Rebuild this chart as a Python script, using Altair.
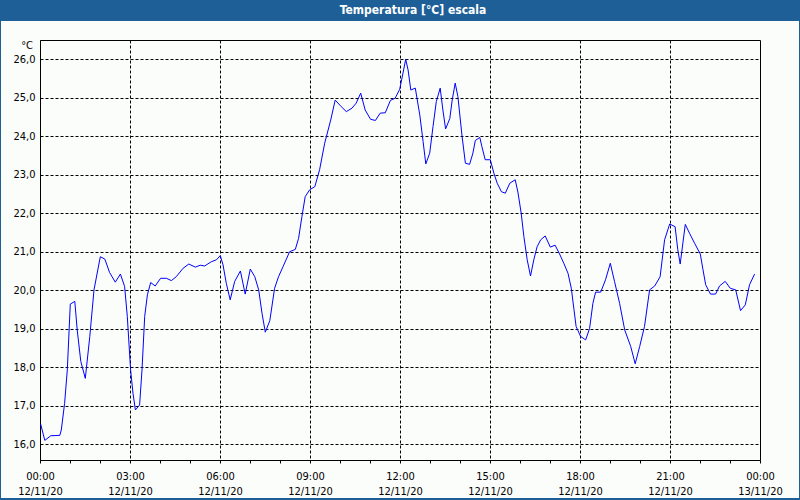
import altair as alt
import pandas as pd

title_text = "Temperatura [°C] escala"
unit_label = "°C"

hours = [0.02, 0.16, 0.36, 0.66, 0.71, 0.82, 0.91, 1.01, 1.16, 1.24, 1.36, 1.51, 1.66, 1.80,
         2.01, 2.16, 2.32, 2.51, 2.68, 2.82, 2.91, 3.02, 3.10, 3.18, 3.32, 3.40, 3.49, 3.58,
         3.69, 3.84, 4.02, 4.21, 4.38, 4.54, 4.77, 4.96, 5.18, 5.34, 5.49, 5.71, 5.88, 6.01,
         6.10, 6.21, 6.34, 6.49, 6.68, 6.84, 7.01, 7.16, 7.29, 7.40, 7.51, 7.66, 7.82, 7.95,
         8.10, 8.32, 8.51, 8.62, 8.73, 8.84, 8.99, 9.16, 9.32, 9.49, 9.69, 9.84, 10.04, 10.21,
         10.40, 10.54, 10.69, 10.84, 11.02, 11.18, 11.34, 11.51, 11.68, 11.84, 11.99, 12.10,
         12.19, 12.27, 12.36, 12.51, 12.66, 12.77, 12.86, 12.99, 13.10, 13.21, 13.34, 13.43,
         13.52, 13.66, 13.74, 13.84, 13.93, 14.07, 14.18, 14.32, 14.43, 14.51, 14.66, 14.73,
         14.84, 15.01, 15.13, 15.24, 15.38, 15.51, 15.66, 15.84, 15.93, 16.04, 16.13, 16.24,
         16.35, 16.46, 16.57, 16.69, 16.84, 17.01, 17.17, 17.32, 17.46, 17.60, 17.71, 17.80,
         17.87, 18.02, 18.19, 18.32, 18.43, 18.52, 18.69, 18.85, 19.01, 19.15, 19.32, 19.49,
         19.69, 19.84, 19.99, 20.15, 20.32, 20.49, 20.67, 20.82, 20.99, 21.17, 21.26, 21.34,
         21.43, 21.51, 21.65, 21.82, 22.01, 22.10, 22.19, 22.35, 22.52, 22.65, 22.84, 23.01,
         23.19, 23.35, 23.51, 23.65, 23.82]

temps = [16.53, 16.10, 16.22, 16.23, 16.37, 17.06, 17.93, 19.64, 19.71, 18.97, 18.15, 17.71, 18.80, 20.01,
         20.87, 20.81, 20.46, 20.21, 20.42, 20.10, 19.32, 17.93, 17.32, 16.89, 17.02, 17.93, 19.32, 19.88,
         20.20, 20.11, 20.31, 20.31, 20.25, 20.35, 20.57, 20.68, 20.60, 20.65, 20.63, 20.74, 20.79, 20.90,
         20.66, 20.18, 19.75, 20.23, 20.50, 19.90, 20.55, 20.35, 20.01, 19.40, 18.91, 19.21, 20.05, 20.35,
         20.61, 21.00, 21.06, 21.35, 21.91, 22.43, 22.61, 22.69, 23.13, 23.82, 24.42, 24.94, 24.77, 24.64,
         24.73, 24.86, 25.12, 24.68, 24.44, 24.41, 24.60, 24.61, 24.93, 24.99, 25.22, 25.64,
         26.00, 25.72, 25.20, 25.25, 24.55, 23.86, 23.28, 23.56, 24.25, 24.90, 25.25, 24.68,
         24.19, 24.46, 24.94, 25.38, 25.03, 23.99, 23.30, 23.27, 23.56, 23.89, 23.97, 23.73,
         23.39, 23.39, 23.04, 22.78, 22.56, 22.52, 22.78, 22.87, 22.55, 22.00, 21.39, 20.79,
         20.37, 20.79, 21.13, 21.31, 21.41, 21.12, 21.17, 20.94, 20.70, 20.44, 20.05, 19.49,
         19.06, 18.80, 18.71, 19.01, 19.66, 19.95, 19.95, 20.27, 20.70, 20.23, 19.66, 18.97,
         18.54, 18.09, 18.54, 19.06, 20.01, 20.11, 20.35, 21.31, 21.72, 21.65, 21.05, 20.68,
         21.23, 21.71, 21.48, 21.22, 20.94, 20.53, 20.14, 19.90, 19.90, 20.11, 20.23, 20.05,
         20.01, 19.47, 19.62, 20.14, 20.42]

x_ticks = list(range(0, 25))
y_ticks = list(range(16, 27))

df = pd.DataFrame({"hour": hours, "temp": temps})

FONT = "DejaVu Sans Condensed"
BAR = "#1e5f98"
W, H = 720, 420

x_axis = alt.Axis(
    values=x_ticks,
    title=None,
    labelExpr=("datum.value % 3 != 0 ? '' : "
               "[(datum.value % 24 < 10 ? '0' : '') + (datum.value % 24) + ':00', "
               "datum.value >= 24 ? '13/11/20' : '12/11/20']"),
    labelFont=FONT, labelFontSize=11, labelColor="black",
    labelPadding=7, labelLineHeight=15, labelOverlap=False, labelFlush=False,
    tickSize=3, tickColor="black",
    domainColor="black",
    gridColor="black", gridDash=[3, 2], gridWidth=1,
    gridOpacity={"condition": {"test": "datum.value % 3 === 0 && datum.value > 0 && datum.value < 24", "value": 1}, "value": 0},
)

y_axis = alt.Axis(
    values=y_ticks,
    title=None,
    labelExpr="replace(format(datum.value, '.1f'), '.', ',')",
    labelFont=FONT, labelFontSize=11, labelColor="black",
    labelPadding=5, ticks=False,
    domainColor="black",
    gridColor="black", gridDash=[3, 2], gridWidth=1,
)

line = alt.Chart(df).mark_line(color="#0000ff", strokeWidth=1).encode(
    x=alt.X("hour:Q", scale=alt.Scale(domain=[0, 24], nice=False, zero=False), axis=x_axis),
    y=alt.Y("temp:Q", scale=alt.Scale(domain=[15.59, 26.5], nice=False, zero=False), axis=y_axis),
)

one = pd.DataFrame({"label": [title_text]})

bar = alt.Chart(one).mark_rect(color=BAR).encode(
    x=alt.value(-40), x2=alt.value(W + 40), y=alt.value(-40), y2=alt.value(-19)
)
frame = alt.Chart(one).mark_rect(fill=None, stroke=BAR, strokeWidth=2).encode(
    x=alt.value(-40), x2=alt.value(W + 40), y=alt.value(-40), y2=alt.value(H + 39)
)
title = alt.Chart(one).mark_text(
    color="white", font=FONT, fontSize=12, fontWeight="bold", baseline="middle", align="center"
).encode(x=alt.value(373), y=alt.value(-30), text="label:N")

unit = alt.Chart(pd.DataFrame({"u": [unit_label]})).mark_text(
    color="black", font=FONT, fontSize=11, baseline="middle", align="right"
).encode(x=alt.value(-7), y=alt.value(6), text="u:N")

chart = alt.layer(bar, frame, line, title, unit).properties(
    width=W, height=H,
    autosize=alt.AutoSizeParams(type="none"),
    padding={"left": 40, "top": 40, "right": 40, "bottom": 40},
    background="#fbfdfb",
).configure_view(stroke="black", strokeWidth=1)

chart.save("out.html", embed_options={"renderer": "svg", "actions": False})
